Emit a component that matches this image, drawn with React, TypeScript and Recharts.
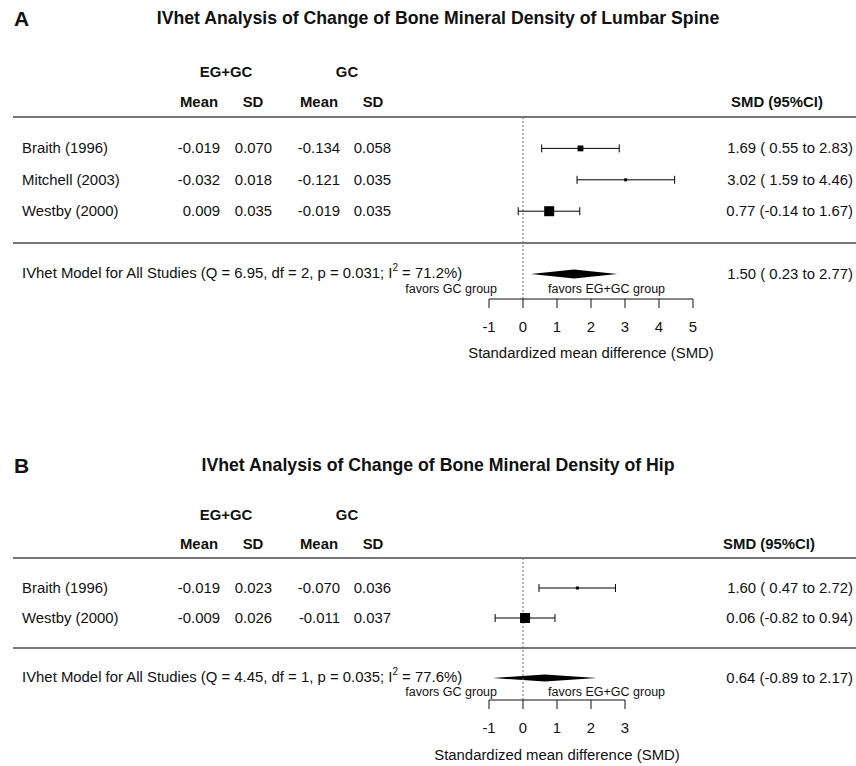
import React from 'react';
import { ComposedChart, Scatter, ErrorBar, XAxis, YAxis, ReferenceLine, ReferenceArea } from 'recharts';

const FONT = '"Liberation Sans", Arial, Helvetica, sans-serif';
const INK = '#111';

// Panel A - lumbar spine
const studiesA = ['Braith (1996)', 'Mitchell (2003)', 'Westby (2000)'];
const egMeanA = ['-0.019', '-0.032', '0.009'];
const egSdA = ['0.070', '0.018', '0.035'];
const gcMeanA = ['-0.134', '-0.121', '-0.019'];
const gcSdA = ['0.058', '0.035', '0.035'];
const smdA = [1.69, 3.02, 0.77];
const lowerA = [0.55, 1.59, -0.14];
const upperA = [2.83, 4.46, 1.67];
const weightA = [31.5, 19.9, 48.6];
const pooledA = [1.5, 0.23, 2.77];
const hetA = ['6.95', '2', '0.031', '71.2'];
const ticksA = [-1, 0, 1, 2, 3, 4, 5];

// Panel B - hip
const studiesB = ['Braith (1996)', 'Westby (2000)'];
const egMeanB = ['-0.019', '-0.009'];
const egSdB = ['0.023', '0.026'];
const gcMeanB = ['-0.070', '-0.011'];
const gcSdB = ['0.036', '0.037'];
const smdB = [1.6, 0.06];
const lowerB = [0.47, -0.82];
const upperB = [2.72, 0.94];
const weightB = [38.0, 62.0];
const pooledB = [0.64, -0.89, 2.17];
const hetB = ['4.45', '1', '0.035', '77.6'];
const ticksB = [-1, 0, 1, 2, 3];

const W = 856;
const H = 383;
const AXIS_H = 30;
const X0 = 489; // pixel of the lowest tick
const PX_PER_UNIT = 34;
const BODY = 14.9;

const fmtCI = (est: number, lo: number, hi: number) =>
  `${est.toFixed(2)} (${lo >= 0 ? ' ' : ''}${lo.toFixed(2)} to ${hi.toFixed(2)})`;

type Layout = {
  title: number; group: number; col: number; ruleTop: number; ruleBot: number;
  favors: number; axis: number; axisTitle: number; unit: number; sumRow: number;
  smdHeadX: number; diamondHalf: number;
};

function Panel(p: any) {
  const L: Layout = p.lay;
  const rows = p.studies.map((s: string, i: number) => ({
    x: p.smd[i],
    y: i + 1,
    err: [p.smd[i] - p.lower[i], p.upper[i] - p.smd[i]],
    weight: p.weight[i],
  }));
  const wMin = Math.min(...p.weight);
  const wMax = Math.max(...p.weight);
  const boxSize = (w: number) => 3 + (7 * (w - wMin)) / (wMax - wMin);
  const rowY = (r: number) => L.ruleTop + r * L.unit;
  const yMax = (L.axis - L.ruleTop) / L.unit;
  const [est, lo, hi] = p.pooled;
  const dh = L.diamondHalf / L.unit;
  const tMin = p.ticks[0];
  const tMax = p.ticks[p.ticks.length - 1];
  const plotRight = X0 + PX_PER_UNIT * (tMax - tMin);
  const txt = { fontFamily: FONT, fill: INK, dominantBaseline: 'central' as const };
  const [Q, df, pv, I2] = p.het;

  return (
    <div style={{ position: 'absolute', left: 0, top: p.top, width: W, height: H }}>
      <ComposedChart
        width={W}
        height={H}
        margin={{ top: L.ruleTop, left: X0, right: W - plotRight, bottom: H - L.axis - AXIS_H }}
      >
        <XAxis
          type="number"
          dataKey="x"
          domain={[tMin, tMax]}
          ticks={p.ticks}
          allowDataOverflow
          height={AXIS_H}
          tickSize={9}
          tickMargin={13}
          axisLine={{ stroke: INK }}
          tickLine={{ stroke: INK }}
          tick={{ fill: INK, fontSize: BODY, fontFamily: FONT }}
        />
        <YAxis type="number" dataKey="y" domain={[0, yMax]} reversed hide />
        <ReferenceLine x={0} stroke="#666" strokeDasharray="2 2" />
        <ReferenceArea
          x1={lo}
          x2={hi}
          y1={L.sumRow - dh}
          y2={L.sumRow + dh}
          shape={(r: any) => {
            const cx = r.x + (r.width * (est - lo)) / (hi - lo);
            const cy = r.y + r.height / 2;
            const pts = `${r.x},${cy} ${cx},${r.y} ${r.x + r.width},${cy} ${cx},${r.y + r.height}`;
            return <polygon points={pts} fill="#000" />;
          }}
        />
        <Scatter
          data={rows}
          isAnimationActive={false}
          shape={(s: any) => {
            const z = boxSize(s.payload.weight);
            return <rect x={s.cx - z / 2} y={s.cy - z / 2} width={z} height={z} fill="#000" />;
          }}
        >
          <ErrorBar dataKey="err" direction="x" width={4} stroke="#000" strokeWidth={1} isAnimationActive={false} />
        </Scatter>
      </ComposedChart>

      <svg width={W} height={H} style={{ position: 'absolute', left: 0, top: 0, pointerEvents: 'none' }}>
        <text x={14} y={L.title} {...txt} fontSize={21} fontWeight="bold">{p.letter}</text>
        <text x={438} y={L.title} {...txt} fontSize={17.7} fontWeight="bold" textAnchor="middle">{p.title}</text>

        <g fontSize={BODY} fontWeight="bold" textAnchor="middle">
          <text x={226} y={L.group} {...txt}>EG+GC</text>
          <text x={347} y={L.group} {...txt}>GC</text>
          <text x={199} y={L.col} {...txt}>Mean</text>
          <text x={253} y={L.col} {...txt}>SD</text>
          <text x={319} y={L.col} {...txt}>Mean</text>
          <text x={373} y={L.col} {...txt}>SD</text>
          <text x={L.smdHeadX} y={L.col} {...txt}>SMD (95%CI)</text>
        </g>

        <line x1={13} x2={W} y1={L.ruleTop} y2={L.ruleTop} stroke="#777" strokeWidth={2} />
        <line x1={13} x2={W} y1={L.ruleBot} y2={L.ruleBot} stroke="#777" strokeWidth={2} />

        <g fontSize={BODY}>
          {p.studies.map((s: string, i: number) => {
            const y = rowY(i + 1);
            return (
              <g key={s}>
                <text x={22} y={y} {...txt}>{s}</text>
                <text x={220} y={y} {...txt} textAnchor="end">{p.egMean[i]}</text>
                <text x={272} y={y} {...txt} textAnchor="end">{p.egSd[i]}</text>
                <text x={340} y={y} {...txt} textAnchor="end">{p.gcMean[i]}</text>
                <text x={391} y={y} {...txt} textAnchor="end">{p.gcSd[i]}</text>
                <text x={853} y={y} {...txt} textAnchor="end" style={{ whiteSpace: 'pre' }}>
                  {fmtCI(p.smd[i], p.lower[i], p.upper[i])}
                </text>
              </g>
            );
          })}
          <text x={22} y={rowY(L.sumRow) - 1} {...txt}>
            {`IVhet Model for All Studies (Q = ${Q}, df = ${df}, p = ${pv}; I`}
            <tspan dy={-6} fontSize={10}>2</tspan>
            <tspan dy={6}>{` = ${I2}%)`}</tspan>
          </text>
          <text x={853} y={rowY(L.sumRow)} {...txt} textAnchor="end" style={{ whiteSpace: 'pre' }}>
            {fmtCI(est, lo, hi)}
          </text>
          <text x={(X0 + plotRight) / 2} y={L.axisTitle} {...txt} textAnchor="middle">
            Standardized mean difference (SMD)
          </text>
        </g>

        <g fontSize={12.5}>
          <text x={497} y={L.favors} {...txt} textAnchor="end">favors GC group</text>
          <text x={548} y={L.favors} {...txt}>favors EG+GC group</text>
        </g>
      </svg>
    </div>
  );
}

const layoutA: Layout = {
  title: 18, group: 72, col: 102, ruleTop: 117, ruleBot: 243, favors: 289, axis: 299,
  axisTitle: 353, unit: 31.4, sumRow: 5, smdHeadX: 777, diamondHalf: 4.5,
};

const layoutB: Layout = {
  title: 82, group: 132, col: 161, ruleTop: 175, ruleBot: 265, favors: 309, axis: 317,
  axisTitle: 372, unit: 30, sumRow: 4, smdHeadX: 769, diamondHalf: 3.5,
};

export default function App() {
  return (
    <div style={{ position: 'absolute', left: 0, top: 0, width: W, height: 766, background: '#fff' }}>
      <Panel
        top={0}
        letter="A"
        title="IVhet Analysis of Change of Bone Mineral Density of Lumbar Spine"
        studies={studiesA}
        egMean={egMeanA}
        egSd={egSdA}
        gcMean={gcMeanA}
        gcSd={gcSdA}
        smd={smdA}
        lower={lowerA}
        upper={upperA}
        weight={weightA}
        pooled={pooledA}
        het={hetA}
        ticks={ticksA}
        lay={layoutA}
      />
      <Panel
        top={383}
        letter="B"
        title="IVhet Analysis of Change of Bone Mineral Density of Hip"
        studies={studiesB}
        egMean={egMeanB}
        egSd={egSdB}
        gcMean={gcMeanB}
        gcSd={gcSdB}
        smd={smdB}
        lower={lowerB}
        upper={upperB}
        weight={weightB}
        pooled={pooledB}
        het={hetB}
        ticks={ticksB}
        lay={layoutB}
      />
    </div>
  );
}
